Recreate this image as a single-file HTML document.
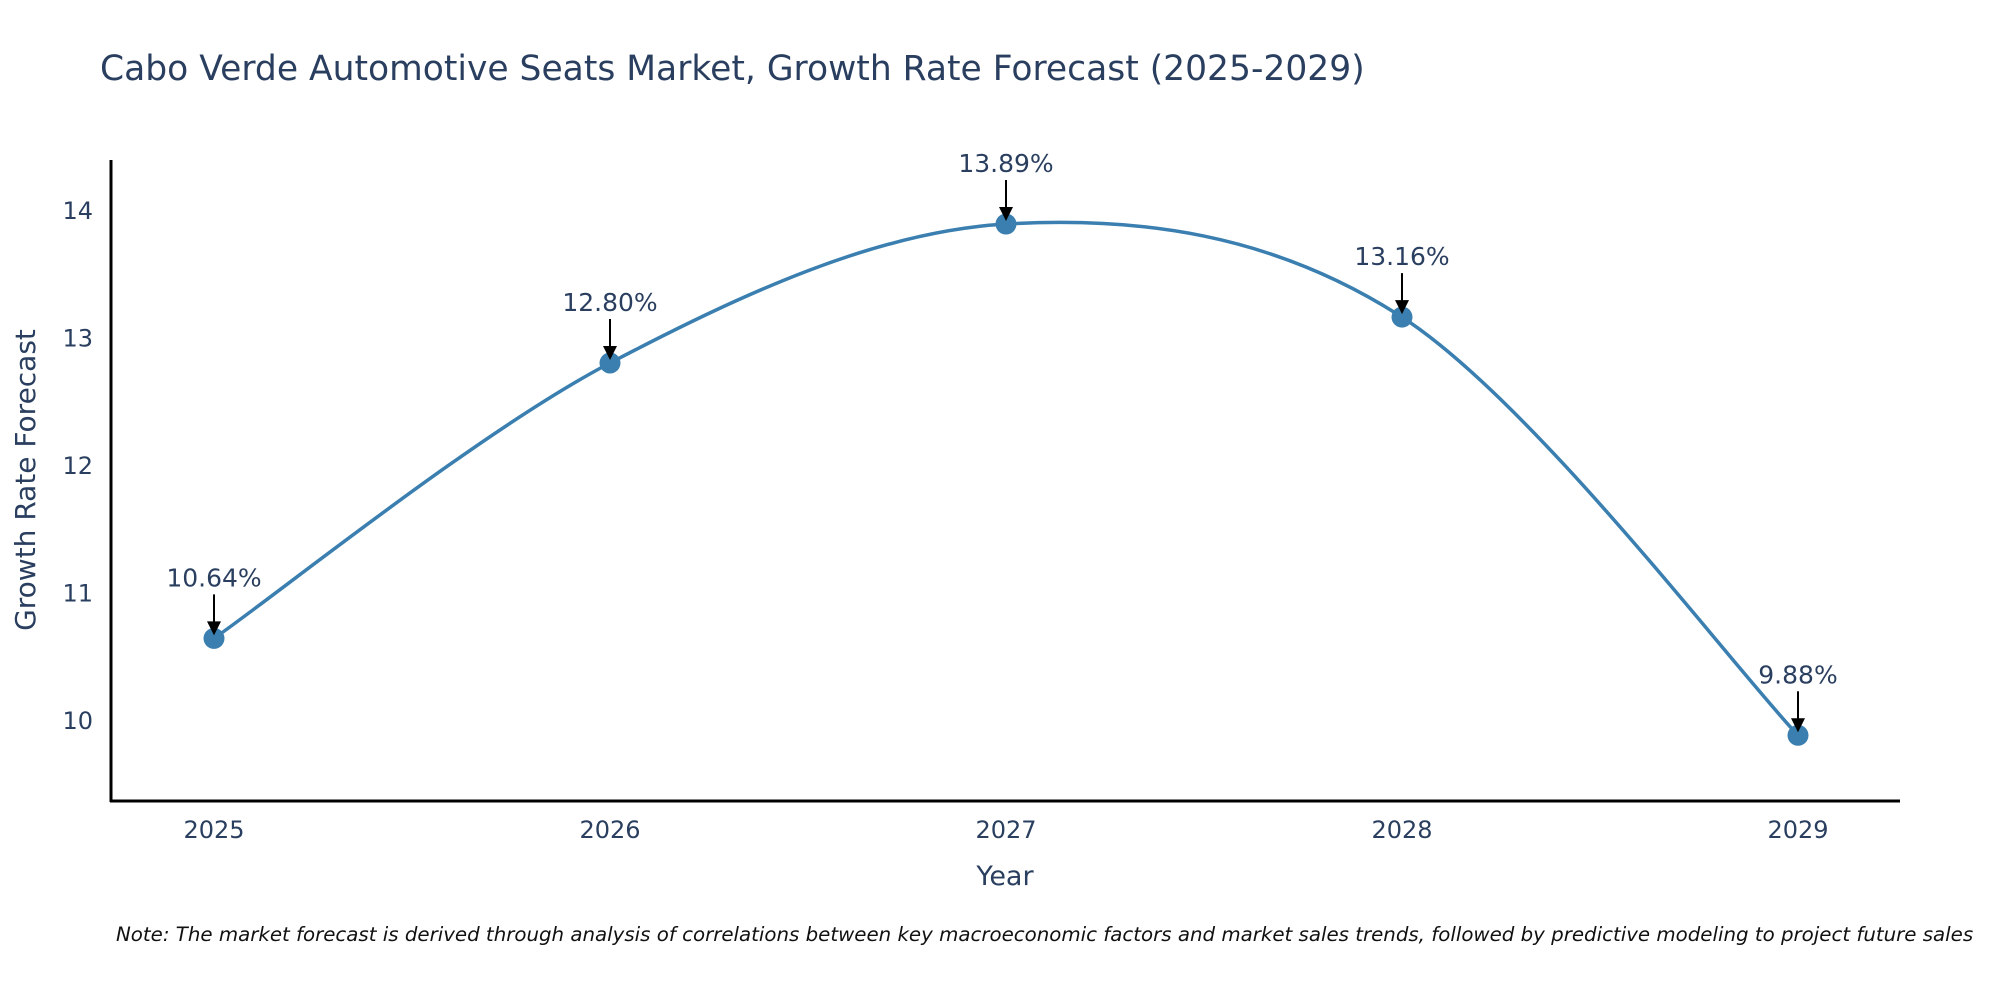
<!DOCTYPE html>
<html><head><meta charset="utf-8"><style>
body{margin:0;background:#fff;}
svg text{font-family:"DejaVu Sans","Liberation Sans",sans-serif;}
</style></head><body>
<svg id="chart" width="2000" height="1000" xmlns="http://www.w3.org/2000/svg">
<rect width="2000" height="1000" fill="#fff"/>
<text x="100" y="80" font-size="34.5" fill="#2a3f5f">Cabo Verde Automotive Seats Market, Growth Rate Forecast (2025-2029)</text>
<g id="yticks"></g><g id="xticks"></g>
<line x1="111" y1="160" x2="111" y2="802" stroke="#000" stroke-width="3"/>
<line x1="110" y1="801" x2="1900" y2="801" stroke="#000" stroke-width="3"/>
<text transform="translate(35,480) rotate(-90)" text-anchor="middle" font-size="28" fill="#2a3f5f">Growth Rate Forecast</text>
<text x="1005" y="885" text-anchor="middle" font-size="27" fill="#2a3f5f">Year</text>
<path id="line" fill="none" stroke="#3a7fb0" stroke-width="3.5"/>
<g id="marks"></g>
<text x="116" y="941" font-size="19.8" font-style="italic" fill="#111">Note: The market forecast is derived through analysis of correlations between key macroeconomic factors and market sales trends, followed by predictive modeling to project future sales</text>
</svg>
<script>
const years=[2025,2026,2027,2028,2029];
const values=[10.64,12.80,13.89,13.16,9.88];
const labels=["10.64%","12.80%","13.89%","13.16%","9.88%"];
const yTicks=[10,11,12,13,14];
const NS="http://www.w3.org/2000/svg";
const xs=y=>214+(y-2025)*396;
const ys=v=>720-(v-10)*127.5;
function mk(t,a,p){const e=document.createElementNS(NS,t);for(const k in a)e.setAttribute(k,a[k]);p.appendChild(e);return e;}
const yt=document.getElementById('yticks');
yTicks.forEach(v=>{const t=mk('text',{x:93,y:ys(v)+9,'text-anchor':'end','font-size':24,fill:'#2a3f5f'},yt);


t.textContent=v;});
const xt=document.getElementById('xticks');
years.forEach(y=>{const t=mk('text',{x:xs(y),y:838,'text-anchor':'middle','font-size':24,fill:'#2a3f5f'},xt);


t.textContent=y;});
const pts=years.map((y,i)=>[xs(y),ys(values[i])]);
let d='M'+pts[0][0]+','+pts[0][1];const s=0.33;
for(let i=0;i<pts.length-1;i++){const p0=pts[Math.max(i-1,0)],p1=pts[i],p2=pts[i+1],p3=pts[Math.min(i+2,pts.length-1)];
const c1=[p1[0]+(p2[0]-p0[0])*s*0.5,p1[1]+(p2[1]-p0[1])*s*0.5];
const c2=[p2[0]-(p3[0]-p1[0])*s*0.5,p2[1]-(p3[1]-p1[1])*s*0.5];
d+=' C'+c1[0]+','+c1[1]+' '+c2[0]+','+c2[1]+' '+p2[0]+','+p2[1];}
document.getElementById('line').setAttribute('d',d);
const m=document.getElementById('marks');
pts.forEach((p,i)=>{const c=mk('circle',{cx:p[0],cy:p[1],r:10.5,fill:'#3a7fb0'},m);


const l=mk('line',{x1:p[0],y1:p[1]-44,x2:p[0],y2:p[1]-14,stroke:'#000','stroke-width':2},m);


const h=mk('path',{d:`M${p[0]-7},${p[1]-17} L${p[0]+7},${p[1]-17} L${p[0]},${p[1]-3} Z`,fill:'#000'},m);


const t=mk('text',{x:p[0],y:p[1]-52,'text-anchor':'middle','font-size':25,fill:'#2a3f5f'},m);


t.textContent=labels[i];});
</script>
</body></html>
